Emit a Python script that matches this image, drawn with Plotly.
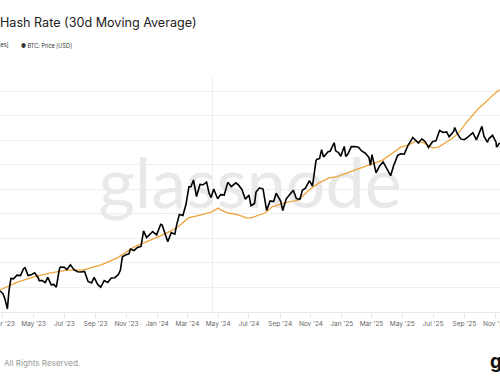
import plotly.graph_objects as go
import pandas as pd

# ---------------- data ----------------
price_dates = [
    "2023-02-23", "2023-03-01", "2023-03-05", "2023-03-10", "2023-03-13", "2023-03-17", "2023-03-22",
    "2023-03-29", "2023-04-05", "2023-04-11", "2023-04-14", "2023-04-20", "2023-04-26", "2023-05-03",
    "2023-05-10", "2023-05-12", "2023-05-18", "2023-05-24", "2023-05-29", "2023-06-05", "2023-06-10",
    "2023-06-15", "2023-06-21", "2023-06-23", "2023-07-01", "2023-07-06", "2023-07-13", "2023-07-20",
    "2023-07-27", "2023-08-03", "2023-08-10", "2023-08-17", "2023-08-24", "2023-08-29", "2023-09-05",
    "2023-09-11", "2023-09-18", "2023-09-25", "2023-10-02", "2023-10-09", "2023-10-16", "2023-10-20",
    "2023-10-24", "2023-10-30", "2023-11-06", "2023-11-09", "2023-11-16", "2023-11-23", "2023-11-30",
    "2023-12-05", "2023-12-11", "2023-12-18", "2023-12-23", "2023-12-31", "2024-01-08", "2024-01-11",
    "2024-01-18", "2024-01-22", "2024-01-29", "2024-02-05", "2024-02-09", "2024-02-14", "2024-02-21",
    "2024-02-27", "2024-03-04", "2024-03-08", "2024-03-13", "2024-03-19", "2024-03-26", "2024-04-01",
    "2024-04-08", "2024-04-13", "2024-04-17", "2024-04-22", "2024-04-30", "2024-05-06", "2024-05-13",
    "2024-05-20", "2024-05-27", "2024-06-05", "2024-06-10", "2024-06-17", "2024-06-24", "2024-07-01",
    "2024-07-05", "2024-07-12", "2024-07-15", "2024-07-22", "2024-07-29", "2024-08-05", "2024-08-12",
    "2024-08-19", "2024-08-24", "2024-09-02", "2024-09-06", "2024-09-13", "2024-09-20", "2024-09-27",
    "2024-10-03", "2024-10-10", "2024-10-15", "2024-10-21", "2024-10-29", "2024-11-04", "2024-11-11",
    "2024-11-13", "2024-11-18", "2024-11-22", "2024-11-26", "2024-12-05", "2024-12-09", "2024-12-17",
    "2024-12-20", "2024-12-26", "2024-12-30", "2025-01-06", "2025-01-09", "2025-01-13", "2025-01-20",
    "2025-01-27", "2025-02-03", "2025-02-10", "2025-02-17", "2025-02-24", "2025-02-27", "2025-03-02",
    "2025-03-10", "2025-03-17", "2025-03-24", "2025-03-31", "2025-04-08", "2025-04-14", "2025-04-22",
    "2025-04-28", "2025-05-05", "2025-05-12", "2025-05-22", "2025-05-26", "2025-06-02", "2025-06-09",
    "2025-06-16", "2025-06-22", "2025-06-30", "2025-07-07", "2025-07-14", "2025-07-21", "2025-07-28",
    "2025-08-02", "2025-08-11", "2025-08-13", "2025-08-18", "2025-08-25", "2025-09-01", "2025-09-08",
    "2025-09-15", "2025-09-18", "2025-09-25", "2025-10-01", "2025-10-06", "2025-10-10", "2025-10-17",
    "2025-10-20", "2025-10-27", "2025-11-03", "2025-11-04", "2025-11-07", "2025-11-10",
]
price_values = [
    24200, 23600, 22400, 20200, 24100, 27400, 27300,
    28300, 28200, 30200, 30500, 28200, 28400, 29000,
    27600, 26800, 26800, 26300, 27700, 25700, 25800,
    25100, 30000, 30700, 30600, 29900, 31400, 29900,
    29300, 29200, 29400, 26600, 26200, 27700, 25800,
    25100, 26800, 26300, 27500, 27600, 28500, 29700,
    34000, 34600, 35000, 36700, 36200, 37300, 37700,
    44000, 41200, 42700, 43700, 42300, 47000, 46600,
    41300, 39500, 43300, 42600, 47100, 51800, 51300,
    57100, 68300, 68300, 73100, 62000, 70000, 69700,
    71600, 64000, 61300, 66800, 60600, 63200, 62900,
    71400, 68500, 71100, 69600, 66500, 60300, 62900,
    56600, 57800, 64800, 67600, 66800, 54000, 59300,
    59000, 64100, 59100, 53900, 60600, 63200, 66000,
    60700, 60300, 66000, 67400, 72700, 68800, 88700,
    90000, 90500, 98900, 91900, 97000, 97400, 106000,
    97800, 95800, 92600, 102100, 92500, 94500, 102000,
    102100, 101400, 97400, 95500, 91400, 84700, 94200,
    78500, 84000, 87500, 82500, 76300, 84500, 93400,
    95000, 94700, 102800, 111700, 109400, 105700, 110200,
    106800, 101000, 107100, 108200, 119800, 117400, 118000,
    112500, 118700, 123300, 116300, 110100, 109200, 112000,
    115300, 117100, 109000, 118600, 124700, 113200, 106500,
    110500, 114100, 106500, 101500, 103400, 105900,
]

hash_dates = [
    "2023-02-23", "2023-03-30", "2023-05-01", "2023-06-02", "2023-07-06", "2023-08-06", "2023-09-12",
    "2023-10-13", "2023-11-16", "2023-12-20", "2024-01-20", "2024-02-11", "2024-03-03", "2024-03-28",
    "2024-04-17", "2024-05-01", "2024-05-07", "2024-05-21", "2024-06-10", "2024-06-26", "2024-07-05",
    "2024-08-02", "2024-08-16", "2024-09-10", "2024-10-08", "2024-10-28", "2024-11-17", "2024-12-07",
    "2024-12-21", "2025-01-16", "2025-02-12", "2025-03-04", "2025-03-23", "2025-04-12", "2025-04-28",
    "2025-05-14", "2025-05-28", "2025-06-13", "2025-07-01", "2025-07-12", "2025-07-27", "2025-08-09",
    "2025-08-21", "2025-09-04", "2025-09-18", "2025-09-30", "2025-10-14", "2025-10-28", "2025-11-10",
]
hash_values = [  # EH/s
    290, 322, 343, 359, 371, 371, 392,
    420, 465, 494, 522, 547, 584, 596,
    608, 624, 616, 604, 596, 584, 584,
    604, 629, 645, 657, 698, 727, 747,
    751, 771, 792, 808, 820, 849, 873,
    882, 898, 890, 869, 873, 894, 910,
    931, 971, 1004, 1033, 1057, 1086, 1108,
]

x_range = ["2023-02-23 08:00", "2025-11-10 20:00"]
hash_range = [200, 1155]
price_log_range = [4.2924, 5.3055]
halving_dates = ["2024-04-20"]

title_text = "Hash Rate (30d Moving Average)"
watermark_text = "glassnode"

ORANGE = "#eea43c"
BLACK = "#000000"
W, H = 500, 383
TOP, BOTTOM = 78, 312  # plot area in px

def py(y_px):
    return (BOTTOM - y_px) / (BOTTOM - TOP)

fig = go.Figure()

# watermark (drawn first, under the data)
x_mid = pd.Timestamp(x_range[0]) + (pd.Timestamp(x_range[1]) - pd.Timestamp(x_range[0])) / 2
fig.add_trace(go.Scatter(
    x=[x_mid], y=[0.52], mode="text", text=[watermark_text],
    textfont=dict(family="Lato", size=70, color="#e9e9e9"),
    yaxis="y", hoverinfo="skip", showlegend=False,
))

fig.add_trace(go.Scatter(
    x=hash_dates, y=hash_values, mode="lines",
    line=dict(color=ORANGE, width=1.3), yaxis="y2", showlegend=False,
))
fig.add_trace(go.Scatter(
    x=price_dates, y=price_values, mode="lines",
    line=dict(color=BLACK, width=1.6), yaxis="y3", showlegend=False,
))

for d in halving_dates:
    fig.add_shape(type="line", xref="x", yref="paper", x0=d, x1=d, y0=0, y1=1,
                  line=dict(color="#ececec", width=1), layer="below")

annotations = [
    dict(text=title_text, x=-2 / W, y=py(23), xanchor="left", yanchor="middle",
         font=dict(family="Inter", size=12.6, color="#222222")),
    dict(text="<span style='color:%s'>●</span> Hash Rate [Exahashes]" % ORANGE,
         x=11 / W, y=py(45), xanchor="right", yanchor="middle",
         font=dict(family="Inter", size=5.5, color="#333333")),
    dict(text="● BTC: Price [USD]", x=19 / W, y=py(45), xanchor="left", yanchor="middle",
         font=dict(family="Inter", size=5.5, color="#333333")),
    dict(text="All Rights Reserved.", x=2 / W, y=py(363), xanchor="left", yanchor="middle",
         font=dict(family="Inter", size=8.1, color="#999999")),
    dict(text="<b>glassnode</b>", x=488 / W, y=py(361), xanchor="left", yanchor="middle",
         font=dict(family="Inter", size=19, color="#111111")),
]
for a in annotations:
    a.update(xref="paper", yref="paper", showarrow=False)

fig.update_layout(
    width=W, height=H,
    margin=dict(l=0, r=0, t=TOP, b=H - BOTTOM, pad=0, autoexpand=False),
    paper_bgcolor="white", plot_bgcolor="white",
    showlegend=False,
    annotations=annotations,
    xaxis=dict(
        type="date", range=x_range, dtick="M2", tick0="2023-01-01",
        tickformat="%b '%y", showgrid=False, showline=True, linecolor="#e8e8e8",
        ticks="outside", ticklen=5, tickcolor="#e8e8e8",
        tickfont=dict(family="Inter", size=6.5, color="#666666"),
        ticklabeloverflow="allow",
        zeroline=False, automargin=False,
    ),
    yaxis=dict(range=[0, 1], visible=False, fixedrange=True),
    yaxis2=dict(
        overlaying="y", side="left", range=hash_range, dtick=100,
        showgrid=True, gridcolor="#eeeeee", gridwidth=1,
        showticklabels=False, ticks="", zeroline=False, showline=False,
    ),
    yaxis3=dict(
        overlaying="y", side="right", type="log", range=price_log_range,
        showgrid=False, showticklabels=False, ticks="", zeroline=False, showline=False,
    ),
)

fig.write_html(
    "out.html",
    config={"displayModeBar": False},
    post_script="document.body.style.margin='0';document.body.style.overflow='hidden';",
)
